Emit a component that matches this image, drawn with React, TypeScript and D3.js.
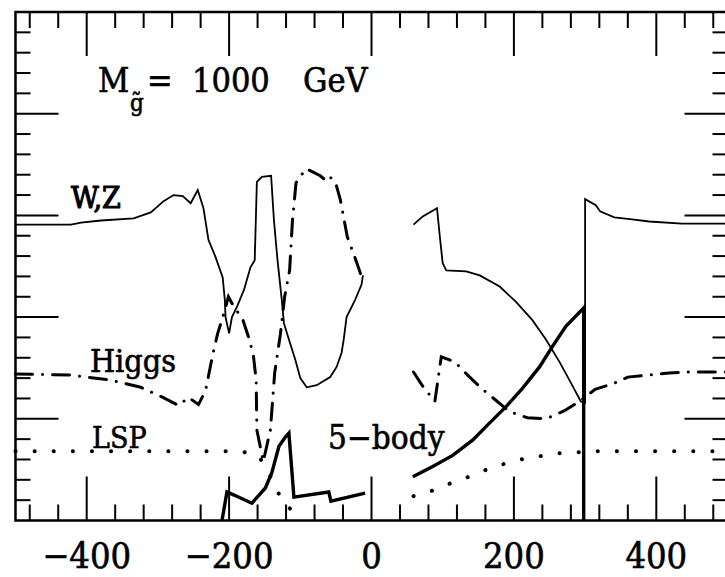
import * as d3 from 'd3';

type Pt = [number, number];

// W,Z curve (thin solid), two pieces
const wzLeft: Pt[] = [
  [-500, 2.91], [-422, 2.91], [-408, 2.93], [-380, 2.95], [-334, 2.97], [-310, 3.03],
  [-292, 3.14], [-278, 3.2], [-265, 3.19], [-254, 3.12], [-244, 3.25], [-236, 3.07],
  [-229, 2.76], [-219, 2.59], [-209, 2.39], [-206, 2.17], [-205, 2.0], [-200, 1.84],
  [-196, 2.0], [-189, 2.1], [-179, 2.27], [-170, 2.49], [-164, 2.56], [-161, 3.33],
  [-154, 3.38], [-141, 3.39], [-137, 2.95], [-132, 2.56], [-126, 2.17], [-123, 1.94],
  [-116, 1.78], [-107, 1.58], [-100, 1.4], [-91, 1.31], [-77, 1.33], [-58, 1.41],
  [-49, 1.51], [-42, 1.65], [-39, 1.78], [-35, 2.0], [-23, 2.17], [-14, 2.32], [-12, 2.41],
];
const wzRight: Pt[] = [
  [59, 2.91], [72, 2.99], [92, 3.07], [96, 2.79], [100, 2.53], [105, 2.46], [133, 2.45],
  [152, 2.41], [180, 2.3], [203, 2.15], [226, 1.97], [245, 1.78], [264, 1.56], [278, 1.38],
  [294, 1.17], [300, 1.16], [300, 3.16], [315, 3.1], [321, 3.04], [341, 2.98], [366, 2.96],
  [390, 2.94], [436, 2.92], [500, 2.92],
];

// Higgs curve (dash-dot)
const higgsLeft: Pt[] = [
  [-500, 1.44], [-422, 1.43], [-366, 1.38], [-324, 1.31], [-293, 1.21], [-271, 1.13],
  [-257, 1.21], [-243, 1.14], [-233, 1.28], [-223, 1.63], [-216, 1.84], [-208, 2.02],
  [-201, 2.2], [-194, 2.11], [-181, 1.98], [-173, 1.81], [-166, 1.63], [-162, 1.38],
  [-161, 0.89], [-152, 0.58], [-142, 0.89], [-136, 1.45], [-128, 1.83], [-122, 2.2],
  [-115, 2.46], [-111, 2.95], [-106, 3.32], [-92, 3.46], [-72, 3.39], [-62, 3.33],
  [-57, 3.37], [-50, 3.31], [-44, 3.16], [-34, 2.79], [-25, 2.62], [-16, 2.44], [-12, 2.34],
];
const higgsRight: Pt[] = [
  [59, 1.46], [72, 1.32], [89, 1.17], [98, 1.61], [117, 1.56], [135, 1.43], [156, 1.29],
  [175, 1.18], [194, 1.07], [219, 1.01], [245, 1.0], [271, 1.08], [294, 1.18], [314, 1.29],
  [341, 1.35], [360, 1.41], [390, 1.43], [418, 1.45], [446, 1.46], [500, 1.46],
];

// LSP curve (dotted)
const lspLeft: Pt[] = [
  [-500, 0.68], [-184, 0.68], [-159, 0.64], [-145, 0.48], [-134, 0.31], [-121, 0.15], [-103, 0.06],
];
const lspRight: Pt[] = [
  [59, 0.24], [84, 0.29], [109, 0.36], [133, 0.42], [158, 0.49], [183, 0.55], [209, 0.6],
  [235, 0.63], [260, 0.66], [287, 0.67], [314, 0.68], [500, 0.68],
];

// 5-body curve (thick solid)
const bodyLeft: Pt[] = [
  [-210, 0], [-203, 0.28], [-193, 0.25], [-168, 0.17], [-158, 0.25], [-149, 0.32],
  [-140, 0.47], [-130, 0.73], [-121, 0.82], [-116, 0.86], [-109, 0.23], [-60, 0.28],
  [-57, 0.19], [-9, 0.27],
];
const bodyRight: Pt[] = [
  [58, 0.43], [86, 0.53], [114, 0.64], [142, 0.79], [166, 0.96], [189, 1.12], [212, 1.3],
  [236, 1.51], [254, 1.71], [273, 1.91], [298, 2.09], [298, 0],
];

const xMajor = [-400, -200, 0, 200, 400];
const xLabels = ['\u2212400', '\u2212200', '0', '200', '400'];
const xMinor = d3.range(-480, 481, 40);
const yTicks = d3.range(1, 25).map((i) => i / 5);

const W = 725;
const H = 577;
const serif = '"DejaVu Serif Condensed", "DejaVu Serif", serif';

const App = () => {
  const x = d3.scaleLinear().domain([-500, 500]).range([15.5, 727.5]);
  const y = d3.scaleLinear().domain([0, 5]).range([520.5, 12]);
  const line = d3.line<Pt>().x((d) => x(d[0])).y((d) => y(d[1]));

  const [x0, x1] = x.range();
  const [yb, yt] = y.range();

  // slightly heavier glyphs, like the old plotter lettering
  const txt = {
    fontFamily: serif,
    fontStretch: 'condensed' as const,
    fill: '#000',
    stroke: '#000',
    strokeWidth: 0.6,
  };

  return (
    <svg
      width={W}
      height={H}
      style={{ position: 'absolute', left: 0, top: 0, background: '#fff' }}
    >
      <rect x={0} y={0} width={W} height={H} fill="#fff" />

      {/* x ticks top and bottom */}
      {xMinor.map((v) => {
        const len = xMajor.includes(v) ? 44 : 16;
        return (
          <g key={'xt' + v} stroke="#000" strokeWidth={2}>
            <line x1={x(v)} x2={x(v)} y1={yb} y2={yb - len} />
            <line x1={x(v)} x2={x(v)} y1={yt} y2={yt + len} />
          </g>
        );
      })}

      {/* y ticks left and right */}
      {yTicks.map((v, i) => {
        const len = (i + 1) % 5 === 0 ? 43 : 15;
        return (
          <g key={'yt' + i} stroke="#000" strokeWidth={2}>
            <line x1={x0} x2={x0 + len} y1={y(v)} y2={y(v)} />
            <line x1={x1} x2={x1 - len} y1={y(v)} y2={y(v)} />
          </g>
        );
      })}

      <rect x={x0} y={yt} width={x1 - x0} height={yb - yt} fill="none" stroke="#000" strokeWidth={2.5} />

      {/* curves */}
      {[wzLeft, wzRight].map((d, i) => (
        <path key={'wz' + i} d={line(d) || ''} fill="none" stroke="#000" strokeWidth={1.8} />
      ))}
      {[higgsLeft, higgsRight].map((d, i) => (
        <path
          key={'h' + i}
          d={line(d) || ''}
          fill="none"
          stroke="#000"
          strokeWidth={3}
          strokeLinecap="round"
          strokeDasharray="17 10 0.1 10"
        />
      ))}
      {[lspLeft, lspRight].map((d, i) => (
        <path
          key={'l' + i}
          d={line(d) || ''}
          fill="none"
          stroke="#000"
          strokeWidth={4}
          strokeLinecap="round"
          strokeDasharray="0.1 19"
        />
      ))}
      {[bodyLeft, bodyRight].map((d, i) => (
        <path key={'b' + i} d={line(d) || ''} fill="none" stroke="#000" strokeWidth={3.4} />
      ))}

      {/* tick labels */}
      {xMajor.map((v, i) => (
        <text key={'xl' + v} x={x(v)} y={568} textAnchor="middle" fontSize={36} style={txt}>
          {xLabels[i]}
        </text>
      ))}

      {/* annotations */}
      <text x={98} y={92} fontSize={34} style={txt}>M</text>
      <text x={130} y={111} fontSize={24} style={txt}>{'g\u0303'}</text>
      <text x={147} y={92} fontSize={34} style={txt}>=</text>
      <text x={192} y={92} fontSize={34} style={txt}>1000</text>
      <text x={303} y={92} fontSize={34} style={txt}>GeV</text>

      <text x={71} y={208} fontSize={30} style={{ ...txt, strokeWidth: 1.1 }}>W,Z</text>
      <text x={90} y={372} fontSize={32} style={txt}>Higgs</text>
      <text x={92} y={448} fontSize={30} style={txt}>LSP</text>
      <text x={328} y={449} fontSize={33} style={txt}>5{'\u2212'}body</text>
    </svg>
  );
};

export default App;
